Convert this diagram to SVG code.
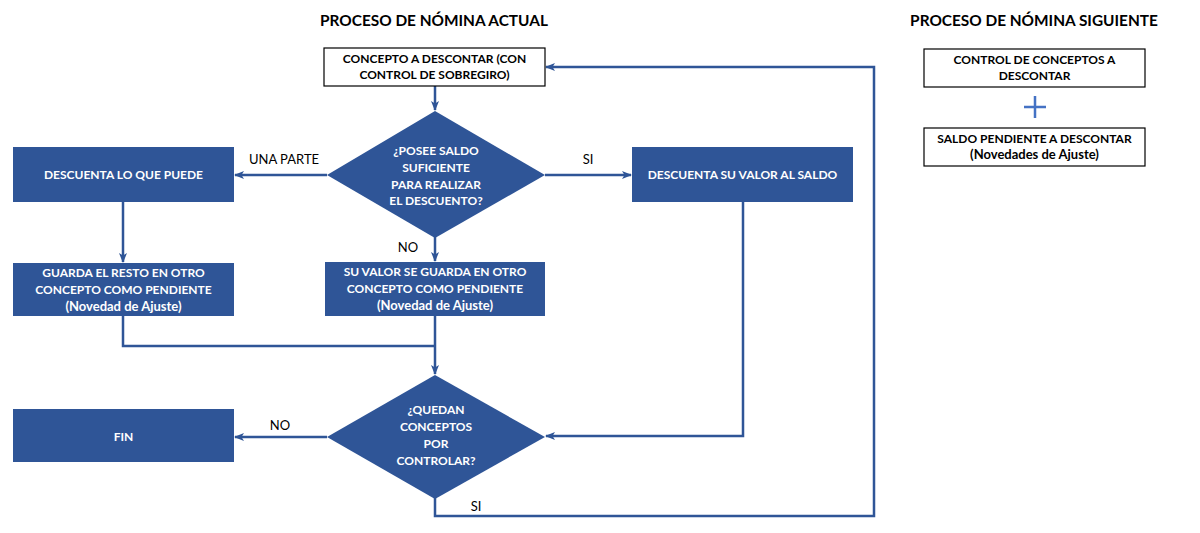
<svg xmlns="http://www.w3.org/2000/svg" width="1200" height="533" viewBox="0 0 1200 533">
<style>
.t{font-family:Lato,"Liberation Sans",sans-serif;font-weight:bold;font-size:15.4px;fill:#000;text-anchor:middle}
.bw{fill:#fff;stroke:#000;stroke-width:1.2}
.bb{fill:#2F5597}
.tw{font-family:Lato,"Liberation Sans",sans-serif;font-weight:bold;font-size:12px;fill:#fff;text-anchor:middle}
.tk{font-family:Lato,"Liberation Sans",sans-serif;font-weight:bold;font-size:12px;fill:#000;text-anchor:middle}
.lc{font-size:13px}
.lb{font-family:Lato,"Liberation Sans",sans-serif;font-size:13px;fill:#000;text-anchor:middle}
.c{fill:none;stroke:#2F5597;stroke-width:2.5}
</style>
<defs>
<marker id="a" markerUnits="userSpaceOnUse" markerWidth="10" markerHeight="10" viewBox="0 0 10 10" refX="9" refY="5" orient="auto">
<path d="M0,1 L10,5 L0,9 L2.5,5 Z" fill="#2F5597"/>
</marker>
</defs>
<rect width="1200" height="533" fill="#fff"/>
<text class="t" x="434" y="26">PROCESO DE NÓMINA ACTUAL</text>
<text class="t" x="1034" y="26">PROCESO DE NÓMINA SIGUIENTE</text>

<g id="connectors">
<path class="c" d="M435,86 V110" marker-end="url(#a)"/>
<path class="c" d="M327,175 H235" marker-end="url(#a)"/>
<path class="c" d="M545,175 H631" marker-end="url(#a)"/>
<path class="c" d="M123,202 V262" marker-end="url(#a)"/>
<path class="c" d="M435,237 V261" marker-end="url(#a)"/>
<path class="c" d="M123,316 V346 H435"/>
<path class="c" d="M435,316 V374" marker-end="url(#a)"/>
<path class="c" d="M743,202 V436 H546" marker-end="url(#a)"/>
<path class="c" d="M327,437 H235" marker-end="url(#a)"/>
<path class="c" d="M435,498 V516 H874 V67 H546" marker-end="url(#a)"/>
<text class="lb" x="284" y="164">UNA PARTE</text>
<text class="lb" x="588" y="164">SI</text>
<text class="lb" x="408" y="252">NO</text>
<text class="lb" x="280" y="430">NO</text>
<text class="lb" x="476" y="511">SI</text>
</g>

<g id="n_concepto">
<rect class="bw" x="324" y="48" width="221" height="38"/>
<text class="tk" x="434.5" y="63">CONCEPTO A DESCONTAR (CON</text>
<text class="tk" x="434.5" y="79">CONTROL DE SOBREGIRO)</text>
</g>
<g id="n_posee">
<polygon class="bb" points="435,111 545,175 435,238 327,175"/>
<text class="tw" x="436" y="155">¿POSEE SALDO</text>
<text class="tw" x="436" y="172">SUFICIENTE</text>
<text class="tw" x="436" y="189">PARA REALIZAR</text>
<text class="tw" x="436" y="205">EL DESCUENTO?</text>
</g>
<g id="n_descuenta_puede">
<rect class="bb" x="13" y="147" width="221" height="55"/>
<text class="tw" x="123.5" y="179">DESCUENTA LO QUE PUEDE</text>
</g>
<g id="n_descuenta_valor">
<rect class="bb" x="632" y="147" width="221" height="55"/>
<text class="tw" x="742.5" y="179">DESCUENTA SU VALOR AL SALDO</text>
</g>
<g id="n_guarda_resto">
<rect class="bb" x="13" y="263" width="221" height="53"/>
<text class="tw" x="123.5" y="277">GUARDA EL RESTO EN OTRO</text>
<text class="tw" x="123.5" y="294">CONCEPTO COMO PENDIENTE</text>
<text class="tw lc" x="123.5" y="311">(Novedad de Ajuste)</text>
</g>
<g id="n_su_valor">
<rect class="bb" x="325" y="262" width="220" height="54"/>
<text class="tw" x="435" y="276">SU VALOR SE GUARDA EN OTRO</text>
<text class="tw" x="435" y="293">CONCEPTO COMO PENDIENTE</text>
<text class="tw lc" x="435" y="310">(Novedad de Ajuste)</text>
</g>
<g id="n_quedan">
<polygon class="bb" points="435,375 545,437 435,499 327,437"/>
<text class="tw" x="436" y="414">¿QUEDAN</text>
<text class="tw" x="436" y="431">CONCEPTOS</text>
<text class="tw" x="436" y="448">POR</text>
<text class="tw" x="436" y="465">CONTROLAR?</text>
</g>
<g id="n_fin">
<rect class="bb" x="13" y="409" width="221" height="53"/>
<text class="tw" x="123.5" y="441">FIN</text>
</g>
<g id="n_control">
<rect class="bw" x="924" y="49" width="221" height="38"/>
<text class="tk" x="1034.5" y="64">CONTROL DE CONCEPTOS A</text>
<text class="tk" x="1034.5" y="80">DESCONTAR</text>
</g>
<g id="plus">
<path d="M1024,107 H1046 M1035,96 V118" stroke="#4472C4" stroke-width="2.5" fill="none"/>
</g>
<g id="n_saldo">
<rect class="bw" x="924" y="128" width="221" height="38"/>
<text class="tk" x="1034.5" y="143">SALDO PENDIENTE A DESCONTAR</text>
<text class="tk lc" x="1034.5" y="159">(Novedades de Ajuste)</text>
</g>
</svg>
